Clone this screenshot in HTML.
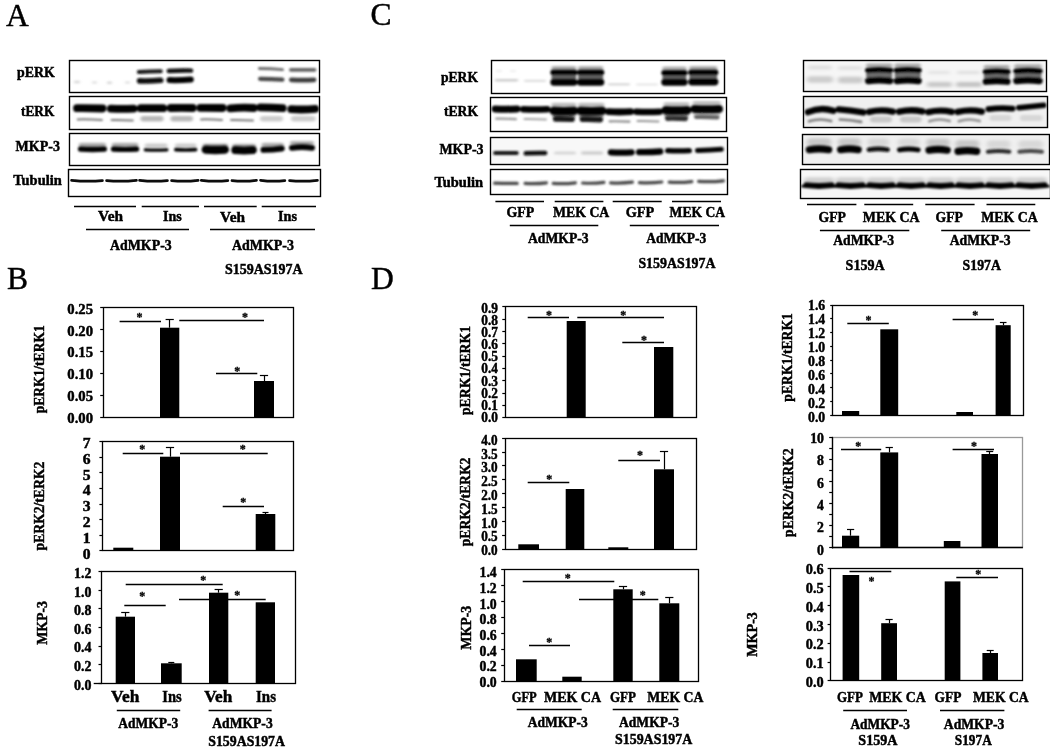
<!DOCTYPE html>
<html><head><meta charset="utf-8"><title>Figure</title>
<style>
html,body{margin:0;padding:0;background:#fff;}
svg{display:block;}
text{font-family:"Liberation Serif","Times New Roman",serif;}
</style></head><body>
<svg width="1050" height="749" viewBox="0 0 1050 749">
<defs>
<filter id="b0" filterUnits="userSpaceOnUse" x="0" y="0" width="1050" height="749"><feGaussianBlur stdDeviation="0.7 0.6"/></filter>
<filter id="b1" filterUnits="userSpaceOnUse" x="0" y="0" width="1050" height="749"><feGaussianBlur stdDeviation="1.1 0.9"/></filter>
<filter id="b2" filterUnits="userSpaceOnUse" x="0" y="0" width="1050" height="749"><feGaussianBlur stdDeviation="1.6 1.3"/></filter>
<filter id="b3" filterUnits="userSpaceOnUse" x="0" y="0" width="1050" height="749"><feGaussianBlur stdDeviation="2.2 1.8"/></filter>
<filter id="tb" filterUnits="userSpaceOnUse" x="0" y="0" width="1050" height="749"><feGaussianBlur stdDeviation="0.35"/></filter>
</defs>
<rect width="1050" height="749" fill="#fff"/>

<text x="6.0" y="25.7" font-size="31.5" stroke="#000" stroke-width="0.45">A</text>
<text x="6.9" y="288.5" font-size="31.5" stroke="#000" stroke-width="0.45">B</text>
<text x="370.5" y="25.4" font-size="31.5" stroke="#000" stroke-width="0.45">C</text>
<text x="370.9" y="288.5" font-size="31.5" stroke="#000" stroke-width="0.45">D</text>
<clipPath id="c1"><rect x="69.5" y="60.5" width="250.0" height="32.0"/></clipPath>
<g clip-path="url(#c1)">
<g filter="url(#b2)">
<path d="M75.2 82.0Q77.0 82.0 78.8 82.0" stroke="#d7d7d7" stroke-width="2.5" stroke-linecap="round" fill="none"/>
<path d="M93.2 82.5Q94.5 82.5 95.8 82.5" stroke="#e1e1e1" stroke-width="2.5" stroke-linecap="round" fill="none"/>
<path d="M108.2 82.8Q109.5 82.8 110.8 82.8" stroke="#d7d7d7" stroke-width="2.5" stroke-linecap="round" fill="none"/>
<path d="M126.2 82.5Q127.5 82.5 128.8 82.5" stroke="#e1e1e1" stroke-width="2.5" stroke-linecap="round" fill="none"/>
</g>
<g filter="url(#b1)">
<path d="M138.8 72.0Q149.8 71.5 160.8 71.3" stroke="#141414" stroke-width="4.0" stroke-linecap="round" fill="none"/>
<path d="M139.6 80.9Q150.2 81.2 160.7 80.3" stroke="#0a0a0a" stroke-width="5.6" stroke-linecap="round" fill="none"/>
<path d="M168.7 71.0Q179.9 70.4 191.1 70.6" stroke="#0a0a0a" stroke-width="4.4" stroke-linecap="round" fill="none"/>
<path d="M169.5 80.1Q180.2 80.4 190.8 79.5" stroke="#000000" stroke-width="6.0" stroke-linecap="round" fill="none"/>
<path d="M259.4 68.5Q271.0 68.5 282.6 69.6" stroke="#6e6e6e" stroke-width="2.8" stroke-linecap="round" fill="none"/>
<path d="M260.1 78.8Q271.2 78.8 282.4 79.6" stroke="#464646" stroke-width="4.2" stroke-linecap="round" fill="none"/>
<path d="M290.8 69.9Q302.7 69.9 314.6 69.9" stroke="#646464" stroke-width="3.6" stroke-linecap="round" fill="none"/>
<path d="M291.4 79.9Q302.7 80.3 314.0 79.9" stroke="#3c3c3c" stroke-width="4.8" stroke-linecap="round" fill="none"/>
</g>
</g>
<rect x="69.5" y="60.5" width="250.0" height="32.0" fill="none" stroke="#000" stroke-width="1.4"/>
<clipPath id="c2"><rect x="69.5" y="96.5" width="250.0" height="33.0"/></clipPath>
<g clip-path="url(#c2)">
<g filter="url(#b2)">
<path d="M143.2 118.8Q152.0 118.8 160.8 118.8" stroke="#b9b9b9" stroke-width="5.5" stroke-linecap="round" fill="none"/>
<path d="M173.2 118.8Q181.8 118.8 190.2 118.8" stroke="#b9b9b9" stroke-width="5.5" stroke-linecap="round" fill="none"/>
<path d="M262.8 118.8Q271.5 118.8 280.2 118.8" stroke="#cdcdcd" stroke-width="5.5" stroke-linecap="round" fill="none"/>
<path d="M293.8 118.8Q303.2 118.8 312.8 118.8" stroke="#cdcdcd" stroke-width="5.5" stroke-linecap="round" fill="none"/>
</g>
<g filter="url(#b1)">
<path d="M77.7 119.4Q89.8 119.2 101.9 119.9" stroke="#787878" stroke-width="2.0" stroke-linecap="round" fill="none"/>
<path d="M111.6 120.0Q122.2 119.8 132.8 120.5" stroke="#787878" stroke-width="2.0" stroke-linecap="round" fill="none"/>
<path d="M201.0 119.4Q211.5 119.2 222.0 119.9" stroke="#787878" stroke-width="2.0" stroke-linecap="round" fill="none"/>
<path d="M231.0 120.0Q242.0 119.8 253.0 120.5" stroke="#787878" stroke-width="2.0" stroke-linecap="round" fill="none"/>
<path d="M77.0 108.2Q89.8 108.1 102.6 108.5" stroke="#000000" stroke-width="7.8" stroke-linecap="round" fill="none"/>
<path d="M110.9 108.6Q122.2 109.2 133.5 108.6" stroke="#000000" stroke-width="7.8" stroke-linecap="round" fill="none"/>
<path d="M140.8 108.2Q152.0 108.2 163.2 108.2" stroke="#000000" stroke-width="7.8" stroke-linecap="round" fill="none"/>
<path d="M170.8 108.0Q181.8 107.6 192.7 108.0" stroke="#000000" stroke-width="7.8" stroke-linecap="round" fill="none"/>
<path d="M200.3 107.8Q211.5 107.7 222.7 108.0" stroke="#000000" stroke-width="7.8" stroke-linecap="round" fill="none"/>
<path d="M230.3 108.4Q242.0 107.2 253.7 108.0" stroke="#000000" stroke-width="7.8" stroke-linecap="round" fill="none"/>
<path d="M260.3 107.3Q271.5 107.4 282.7 108.2" stroke="#000000" stroke-width="7.8" stroke-linecap="round" fill="none"/>
<path d="M291.3 109.2Q303.2 109.9 315.2 108.9" stroke="#000000" stroke-width="7.8" stroke-linecap="round" fill="none"/>
</g>
</g>
<rect x="69.5" y="96.5" width="250.0" height="33.0" fill="none" stroke="#000" stroke-width="1.4"/>
<clipPath id="c3"><rect x="69.5" y="133.5" width="250.0" height="32.0"/></clipPath>
<g clip-path="url(#c3)">
<g filter="url(#b2)">
<path d="M80.9 144.8Q92.5 144.8 104.0 144.8" stroke="#afafaf" stroke-width="4.0" stroke-linecap="round" fill="none"/>
<path d="M113.8 144.8Q125.1 144.8 136.3 144.8" stroke="#afafaf" stroke-width="4.0" stroke-linecap="round" fill="none"/>
<path d="M146.7 145.6Q156.1 145.6 165.5 145.6" stroke="#cdcdcd" stroke-width="4.0" stroke-linecap="round" fill="none"/>
<path d="M177.0 145.4Q185.7 145.4 194.4 145.4" stroke="#cdcdcd" stroke-width="4.0" stroke-linecap="round" fill="none"/>
<path d="M204.6 145.4Q215.3 145.4 226.0 145.4" stroke="#afafaf" stroke-width="4.0" stroke-linecap="round" fill="none"/>
<path d="M234.3 145.8Q244.1 145.8 253.8 145.8" stroke="#afafaf" stroke-width="4.0" stroke-linecap="round" fill="none"/>
<path d="M263.5 144.8Q272.6 144.8 281.8 144.8" stroke="#afafaf" stroke-width="4.0" stroke-linecap="round" fill="none"/>
<path d="M292.0 143.1Q302.0 143.1 312.0 143.1" stroke="#afafaf" stroke-width="4.0" stroke-linecap="round" fill="none"/>
</g>
<g filter="url(#b1)">
<path d="M80.7 149.0Q92.5 149.8 104.2 149.0" stroke="#000000" stroke-width="5.6" stroke-linecap="round" fill="none"/>
<path d="M113.5 149.0Q125.1 149.8 136.6 149.0" stroke="#000000" stroke-width="5.4" stroke-linecap="round" fill="none"/>
<path d="M145.3 149.8Q156.1 150.6 166.9 149.8" stroke="#000000" stroke-width="3.2" stroke-linecap="round" fill="none"/>
<path d="M175.8 149.6Q185.7 150.4 195.6 149.6" stroke="#000000" stroke-width="3.6" stroke-linecap="round" fill="none"/>
<path d="M205.8 149.6Q215.3 150.4 224.8 149.6" stroke="#000000" stroke-width="8.4" stroke-linecap="round" fill="none"/>
<path d="M235.3 150.0Q244.1 150.8 252.8 150.0" stroke="#000000" stroke-width="8.0" stroke-linecap="round" fill="none"/>
<path d="M263.5 149.8Q272.6 149.5 281.8 148.4" stroke="#000000" stroke-width="6.0" stroke-linecap="round" fill="none"/>
<path d="M291.9 147.9Q302.0 146.1 312.1 147.9" stroke="#000000" stroke-width="5.8" stroke-linecap="round" fill="none"/>
</g>
</g>
<rect x="69.5" y="133.5" width="250.0" height="32.0" fill="none" stroke="#000" stroke-width="1.4"/>
<clipPath id="c4"><rect x="68.5" y="169.5" width="252.0" height="27.0"/></clipPath>
<g clip-path="url(#c4)">
<g filter="url(#b0)">
<path d="M71.6 180.3Q87.0 181.9 102.4 180.6" stroke="#0a0a0a" stroke-width="2.8" stroke-linecap="round" fill="none"/>
<path d="M106.6 180.6Q121.5 181.9 136.4 180.3" stroke="#0a0a0a" stroke-width="2.8" stroke-linecap="round" fill="none"/>
<path d="M139.6 180.3Q153.5 181.9 167.4 180.6" stroke="#0a0a0a" stroke-width="2.8" stroke-linecap="round" fill="none"/>
<path d="M171.6 180.6Q184.8 181.9 198.1 180.3" stroke="#0a0a0a" stroke-width="2.8" stroke-linecap="round" fill="none"/>
<path d="M201.3 180.3Q214.6 181.9 227.8 180.6" stroke="#0a0a0a" stroke-width="2.8" stroke-linecap="round" fill="none"/>
<path d="M232.0 180.6Q244.2 181.9 256.4 180.3" stroke="#0a0a0a" stroke-width="2.8" stroke-linecap="round" fill="none"/>
<path d="M260.6 180.3Q272.7 181.9 284.8 180.6" stroke="#0a0a0a" stroke-width="2.8" stroke-linecap="round" fill="none"/>
<path d="M289.6 180.6Q303.5 181.9 317.4 180.3" stroke="#0a0a0a" stroke-width="2.8" stroke-linecap="round" fill="none"/>
</g>
</g>
<rect x="68.5" y="169.5" width="252.0" height="27.0" fill="none" stroke="#000" stroke-width="1.4"/>
<clipPath id="c5"><rect x="491.5" y="60.5" width="233.0" height="33.0"/></clipPath>
<g clip-path="url(#c5)">
<g filter="url(#b2)">
<path d="M553.4 68.1Q563.9 68.1 574.4 68.1" stroke="#afafaf" stroke-width="4.0" stroke-linecap="round" fill="none"/>
<path d="M580.0 68.1Q590.6 68.1 601.3 68.1" stroke="#afafaf" stroke-width="4.0" stroke-linecap="round" fill="none"/>
<path d="M664.3 68.5Q674.5 68.5 684.6 68.5" stroke="#afafaf" stroke-width="4.0" stroke-linecap="round" fill="none"/>
<path d="M691.2 68.1Q703.3 68.1 715.4 68.1" stroke="#afafaf" stroke-width="4.0" stroke-linecap="round" fill="none"/>
<path d="M496.2 80.3Q506.5 80.3 516.8 80.3" stroke="#cdcdcd" stroke-width="2.5" stroke-linecap="round" fill="none"/>
<path d="M525.1 80.8Q535.0 80.8 544.9 80.8" stroke="#dedede" stroke-width="2.2" stroke-linecap="round" fill="none"/>
<path d="M609.1 84.3Q619.0 84.3 628.9 84.3" stroke="#d7d7d7" stroke-width="2.2" stroke-linecap="round" fill="none"/>
<path d="M637.0 84.6Q647.0 84.6 657.0 84.6" stroke="#e6e6e6" stroke-width="2.0" stroke-linecap="round" fill="none"/>
<path d="M497.0 71.0Q499.0 71.0 501.0 71.0" stroke="#eeeeee" stroke-width="2.0" stroke-linecap="round" fill="none"/>
<path d="M511.0 71.0Q513.0 71.0 515.0 71.0" stroke="#eeeeee" stroke-width="2.0" stroke-linecap="round" fill="none"/>
</g>
<g filter="url(#b1)">
<path d="M555.9 77.3Q563.9 77.3 571.9 77.3" stroke="#696969" stroke-width="9.0" stroke-linecap="round" fill="none"/>
<path d="M582.5 77.3Q590.6 77.3 598.8 77.3" stroke="#696969" stroke-width="9.0" stroke-linecap="round" fill="none"/>
<path d="M666.8 77.5Q674.5 77.5 682.1 77.5" stroke="#696969" stroke-width="9.0" stroke-linecap="round" fill="none"/>
<path d="M693.7 77.1Q703.3 77.1 712.9 77.1" stroke="#696969" stroke-width="9.0" stroke-linecap="round" fill="none"/>
<path d="M553.3 72.4Q563.9 72.4 574.5 72.4" stroke="#000000" stroke-width="5.8" stroke-linecap="round" fill="none"/>
<path d="M554.0 82.2Q563.9 82.2 573.8 82.2" stroke="#000000" stroke-width="7.2" stroke-linecap="round" fill="none"/>
<path d="M579.9 72.4Q590.6 72.4 601.4 72.4" stroke="#000000" stroke-width="5.8" stroke-linecap="round" fill="none"/>
<path d="M580.6 82.2Q590.6 82.2 600.7 82.2" stroke="#000000" stroke-width="7.2" stroke-linecap="round" fill="none"/>
<path d="M664.2 72.8Q674.5 72.8 684.7 72.8" stroke="#000000" stroke-width="5.8" stroke-linecap="round" fill="none"/>
<path d="M664.9 82.2Q674.5 82.2 684.0 82.2" stroke="#000000" stroke-width="7.2" stroke-linecap="round" fill="none"/>
<path d="M691.1 72.4Q703.3 72.4 715.5 72.4" stroke="#000000" stroke-width="5.8" stroke-linecap="round" fill="none"/>
<path d="M691.8 81.8Q703.3 81.8 714.8 81.8" stroke="#000000" stroke-width="7.2" stroke-linecap="round" fill="none"/>
</g>
</g>
<rect x="491.5" y="60.5" width="233.0" height="33.0" fill="none" stroke="#000" stroke-width="1.4"/>
<clipPath id="c6"><rect x="490.5" y="97.5" width="236.0" height="34.0"/></clipPath>
<g clip-path="url(#c6)">
<g filter="url(#b2)">
<path d="M553.4 104.8Q563.9 104.8 574.4 104.8" stroke="#bebebe" stroke-width="4.0" stroke-linecap="round" fill="none"/>
<path d="M580.2 104.8Q591.4 104.8 602.5 104.8" stroke="#bebebe" stroke-width="4.0" stroke-linecap="round" fill="none"/>
<path d="M665.5 104.2Q676.5 104.2 687.5 104.2" stroke="#bebebe" stroke-width="4.0" stroke-linecap="round" fill="none"/>
<path d="M694.5 102.9Q706.8 102.9 719.0 102.9" stroke="#bebebe" stroke-width="4.0" stroke-linecap="round" fill="none"/>
<path d="M555.4 115.3Q563.9 115.3 572.4 115.3" stroke="#969696" stroke-width="6.0" stroke-linecap="round" fill="none"/>
<path d="M582.2 115.5Q591.4 115.5 600.5 115.5" stroke="#969696" stroke-width="6.0" stroke-linecap="round" fill="none"/>
<path d="M667.5 114.8Q676.5 114.8 685.5 114.8" stroke="#969696" stroke-width="6.0" stroke-linecap="round" fill="none"/>
<path d="M696.5 113.5Q706.8 113.5 717.0 113.5" stroke="#b9b9b9" stroke-width="6.0" stroke-linecap="round" fill="none"/>
</g>
<g filter="url(#b1)">
<path d="M496.2 118.7Q506.1 118.5 515.9 119.1" stroke="#969696" stroke-width="2.2" stroke-linecap="round" fill="none"/>
<path d="M524.5 119.0Q535.2 118.8 546.0 119.4" stroke="#a5a5a5" stroke-width="2.0" stroke-linecap="round" fill="none"/>
<path d="M555.7 118.9Q563.9 118.7 572.1 119.3" stroke="#191919" stroke-width="5.6" stroke-linecap="round" fill="none"/>
<path d="M582.6 119.2Q591.4 119.0 600.1 119.6" stroke="#141414" stroke-width="5.8" stroke-linecap="round" fill="none"/>
<path d="M609.6 121.3Q619.5 121.1 629.4 121.7" stroke="#8c8c8c" stroke-width="2.2" stroke-linecap="round" fill="none"/>
<path d="M637.5 121.0Q648.0 120.8 658.5 121.4" stroke="#969696" stroke-width="2.0" stroke-linecap="round" fill="none"/>
<path d="M667.6 118.3Q676.5 118.1 685.4 118.7" stroke="#2d2d2d" stroke-width="5.2" stroke-linecap="round" fill="none"/>
<path d="M696.1 117.0Q706.8 116.8 717.4 117.4" stroke="#646464" stroke-width="4.2" stroke-linecap="round" fill="none"/>
<path d="M495.1 108.9Q506.1 109.5 517.0 108.9" stroke="#000000" stroke-width="7.0" stroke-linecap="round" fill="none"/>
<path d="M523.3 109.2Q535.2 109.8 547.2 109.2" stroke="#000000" stroke-width="6.6" stroke-linecap="round" fill="none"/>
<path d="M553.6 110.8Q563.9 111.4 574.2 110.8" stroke="#000000" stroke-width="8.4" stroke-linecap="round" fill="none"/>
<path d="M580.4 110.8Q591.4 111.4 602.3 110.8" stroke="#000000" stroke-width="8.4" stroke-linecap="round" fill="none"/>
<path d="M608.4 111.7Q619.5 112.3 630.6 111.7" stroke="#000000" stroke-width="6.8" stroke-linecap="round" fill="none"/>
<path d="M636.2 111.7Q648.0 112.3 659.8 111.7" stroke="#000000" stroke-width="6.4" stroke-linecap="round" fill="none"/>
<path d="M665.7 110.2Q676.5 110.8 687.3 110.2" stroke="#000000" stroke-width="8.4" stroke-linecap="round" fill="none"/>
<path d="M694.5 108.9Q706.8 109.5 719.0 108.9" stroke="#000000" stroke-width="8.0" stroke-linecap="round" fill="none"/>
</g>
</g>
<rect x="490.5" y="97.5" width="236.0" height="34.0" fill="none" stroke="#000" stroke-width="1.4"/>
<clipPath id="c7"><rect x="490.5" y="137.5" width="237.0" height="27.0"/></clipPath>
<g clip-path="url(#c7)">
<rect x="490.5" y="137.5" width="237.0" height="27.0" fill="#f8f8f8"/>
<g filter="url(#b2)">
<path d="M555.6 153.0Q565.0 153.0 574.4 153.0" stroke="#d7d7d7" stroke-width="3.2" stroke-linecap="round" fill="none"/>
<path d="M582.7 153.0Q592.0 153.0 601.3 153.0" stroke="#d0d0d0" stroke-width="3.4" stroke-linecap="round" fill="none"/>
</g>
<g filter="url(#b1)">
<path d="M495.1 153.0Q505.9 153.0 516.7 153.0" stroke="#191919" stroke-width="4.2" stroke-linecap="round" fill="none"/>
<path d="M525.8 153.3Q535.5 152.8 545.1 153.0" stroke="#0a0a0a" stroke-width="4.6" stroke-linecap="round" fill="none"/>
<path d="M610.9 152.3Q621.3 152.9 631.6 152.3" stroke="#000000" stroke-width="6.3" stroke-linecap="round" fill="none"/>
<path d="M639.1 152.1Q649.7 152.4 660.2 151.5" stroke="#000000" stroke-width="6.3" stroke-linecap="round" fill="none"/>
<path d="M667.7 150.6Q678.5 151.2 689.3 150.6" stroke="#000000" stroke-width="5.4" stroke-linecap="round" fill="none"/>
<path d="M697.5 150.6Q709.4 150.1 721.3 149.2" stroke="#000000" stroke-width="5.0" stroke-linecap="round" fill="none"/>
</g>
</g>
<rect x="490.5" y="137.5" width="237.0" height="27.0" fill="none" stroke="#000" stroke-width="1.4"/>
<clipPath id="c8"><rect x="490.5" y="169.5" width="237.0" height="25.0"/></clipPath>
<g clip-path="url(#c8)">
<g filter="url(#b1)">
<path d="M494.6 183.2Q505.9 183.5 517.2 183.4" stroke="#464646" stroke-width="3.2" stroke-linecap="round" fill="none"/>
<path d="M525.1 183.4Q535.8 184.1 546.4 182.8" stroke="#464646" stroke-width="3.2" stroke-linecap="round" fill="none"/>
<path d="M553.2 183.4Q564.3 184.1 575.4 182.8" stroke="#464646" stroke-width="3.2" stroke-linecap="round" fill="none"/>
<path d="M582.6 183.0Q593.2 183.7 603.9 182.4" stroke="#464646" stroke-width="3.2" stroke-linecap="round" fill="none"/>
<path d="M610.6 182.8Q621.5 183.5 632.4 182.2" stroke="#464646" stroke-width="3.2" stroke-linecap="round" fill="none"/>
<path d="M639.4 182.6Q650.6 183.3 661.8 182.0" stroke="#464646" stroke-width="3.2" stroke-linecap="round" fill="none"/>
<path d="M669.2 182.2Q680.5 182.9 691.8 181.6" stroke="#464646" stroke-width="3.2" stroke-linecap="round" fill="none"/>
<path d="M698.6 181.4Q711.0 182.1 723.4 180.8" stroke="#464646" stroke-width="3.2" stroke-linecap="round" fill="none"/>
</g>
</g>
<rect x="490.5" y="169.5" width="237.0" height="25.0" fill="none" stroke="#000" stroke-width="1.4"/>
<clipPath id="c9"><rect x="803.5" y="60.5" width="243.0" height="31.0"/></clipPath>
<g clip-path="url(#c9)">
<rect x="803.5" y="60.5" width="243.0" height="31.0" fill="#f6f6f6"/>
<g filter="url(#b3)">
<path d="M810.0 67.6Q820.0 67.6 830.0 67.6" stroke="#dedede" stroke-width="4.0" stroke-linecap="round" fill="none"/>
<path d="M840.0 68.0Q850.0 68.0 860.0 68.0" stroke="#e0e0e0" stroke-width="4.0" stroke-linecap="round" fill="none"/>
<path d="M810.2 79.6Q820.0 79.6 829.8 79.6" stroke="#cdcdcd" stroke-width="6.5" stroke-linecap="round" fill="none"/>
<path d="M841.2 80.0Q850.5 80.0 859.8 80.0" stroke="#cacaca" stroke-width="6.5" stroke-linecap="round" fill="none"/>
<path d="M929.5 72.4Q939.0 72.4 948.5 72.4" stroke="#e2e2e2" stroke-width="3.0" stroke-linecap="round" fill="none"/>
<path d="M958.5 72.4Q968.5 72.4 978.5 72.4" stroke="#dedede" stroke-width="3.0" stroke-linecap="round" fill="none"/>
<path d="M929.5 84.5Q939.5 84.5 949.5 84.5" stroke="#c8c8c8" stroke-width="5.0" stroke-linecap="round" fill="none"/>
<path d="M958.5 84.5Q969.0 84.5 979.5 84.5" stroke="#c3c3c3" stroke-width="5.0" stroke-linecap="round" fill="none"/>
</g>
<g filter="url(#b2)">
<path d="M868.0 65.5Q879.1 65.5 890.3 65.5" stroke="#aaaaaa" stroke-width="4.0" stroke-linecap="round" fill="none"/>
<path d="M896.6 65.5Q907.7 65.5 918.8 65.5" stroke="#aaaaaa" stroke-width="4.0" stroke-linecap="round" fill="none"/>
<path d="M985.7 66.9Q996.7 66.9 1007.6 66.9" stroke="#aaaaaa" stroke-width="4.0" stroke-linecap="round" fill="none"/>
<path d="M1016.2 66.2Q1028.0 66.2 1039.7 66.2" stroke="#aaaaaa" stroke-width="4.0" stroke-linecap="round" fill="none"/>
</g>
<g filter="url(#b1)">
<path d="M870.5 75.2Q879.1 75.2 887.8 75.2" stroke="#6e6e6e" stroke-width="9.0" stroke-linecap="round" fill="none"/>
<path d="M899.1 75.2Q907.7 75.2 916.3 75.2" stroke="#6e6e6e" stroke-width="9.0" stroke-linecap="round" fill="none"/>
<path d="M988.2 76.2Q996.7 76.2 1005.1 76.2" stroke="#6e6e6e" stroke-width="9.0" stroke-linecap="round" fill="none"/>
<path d="M1018.7 75.6Q1028.0 75.6 1037.2 75.6" stroke="#6e6e6e" stroke-width="9.0" stroke-linecap="round" fill="none"/>
<path d="M867.7 70.5Q879.1 69.1 890.6 70.5" stroke="#000000" stroke-width="5.4" stroke-linecap="round" fill="none"/>
<path d="M868.4 80.9Q879.1 79.5 889.9 80.9" stroke="#000000" stroke-width="6.8" stroke-linecap="round" fill="none"/>
<path d="M896.3 70.5Q907.7 69.1 919.1 70.5" stroke="#000000" stroke-width="5.4" stroke-linecap="round" fill="none"/>
<path d="M897.0 80.9Q907.7 79.5 918.4 80.9" stroke="#000000" stroke-width="6.8" stroke-linecap="round" fill="none"/>
<path d="M985.4 71.9Q996.7 70.5 1007.9 71.9" stroke="#000000" stroke-width="5.4" stroke-linecap="round" fill="none"/>
<path d="M986.1 81.5Q996.7 80.1 1007.2 81.5" stroke="#000000" stroke-width="6.8" stroke-linecap="round" fill="none"/>
<path d="M1015.9 71.2Q1028.0 69.8 1040.0 71.2" stroke="#000000" stroke-width="5.4" stroke-linecap="round" fill="none"/>
<path d="M1016.6 80.9Q1028.0 79.5 1039.3 80.9" stroke="#000000" stroke-width="6.8" stroke-linecap="round" fill="none"/>
</g>
</g>
<rect x="803.5" y="60.5" width="243.0" height="31.0" fill="none" stroke="#000" stroke-width="1.4"/>
<clipPath id="c10"><rect x="803.5" y="96.5" width="244.0" height="31.0"/></clipPath>
<g clip-path="url(#c10)">
<rect x="803.5" y="96.5" width="244.0" height="31.0" fill="#f0f0f0"/>
<g filter="url(#b2)">
<path d="M873.0 119.5Q881.0 119.5 889.0 119.5" stroke="#c8c8c8" stroke-width="6.0" stroke-linecap="round" fill="none"/>
<path d="M903.0 119.5Q910.8 119.5 918.5 119.5" stroke="#c8c8c8" stroke-width="6.0" stroke-linecap="round" fill="none"/>
<path d="M992.5 118.0Q1000.5 118.0 1008.5 118.0" stroke="#d7d7d7" stroke-width="6.0" stroke-linecap="round" fill="none"/>
<path d="M1023.0 118.0Q1031.2 118.0 1039.5 118.0" stroke="#d7d7d7" stroke-width="6.0" stroke-linecap="round" fill="none"/>
</g>
<g filter="url(#b1)">
<path d="M809.0 121.3Q820.1 117.8 831.2 121.1" stroke="#7d7d7d" stroke-width="2.6" stroke-linecap="round" fill="none"/>
<path d="M839.8 119.5Q850.5 119.9 861.2 121.9" stroke="#7d7d7d" stroke-width="2.6" stroke-linecap="round" fill="none"/>
<path d="M929.3 121.3Q939.5 117.8 949.7 121.1" stroke="#919191" stroke-width="2.6" stroke-linecap="round" fill="none"/>
<path d="M958.8 121.3Q969.2 117.8 979.7 121.1" stroke="#919191" stroke-width="2.6" stroke-linecap="round" fill="none"/>
<path d="M807.9 112.2Q820.6 106.5 833.3 110.8" stroke="#000000" stroke-width="6.4" stroke-linecap="round" fill="none"/>
<path d="M838.7 109.4Q851.0 110.3 863.3 112.4" stroke="#000000" stroke-width="6.4" stroke-linecap="round" fill="none"/>
<path d="M869.2 111.9Q881.0 109.1 892.8 111.6" stroke="#000000" stroke-width="6.4" stroke-linecap="round" fill="none"/>
<path d="M899.2 111.7Q910.8 108.9 922.3 111.4" stroke="#000000" stroke-width="6.4" stroke-linecap="round" fill="none"/>
<path d="M928.2 112.1Q940.0 109.3 951.8 111.8" stroke="#000000" stroke-width="6.4" stroke-linecap="round" fill="none"/>
<path d="M957.7 111.9Q969.8 109.1 981.8 111.6" stroke="#000000" stroke-width="6.4" stroke-linecap="round" fill="none"/>
<path d="M988.4 109.2Q1000.5 107.5 1012.6 108.7" stroke="#000000" stroke-width="5.8" stroke-linecap="round" fill="none"/>
<path d="M1018.7 107.8Q1031.2 106.5 1043.8 105.2" stroke="#000000" stroke-width="5.4" stroke-linecap="round" fill="none"/>
</g>
</g>
<rect x="803.5" y="96.5" width="244.0" height="31.0" fill="none" stroke="#000" stroke-width="1.4"/>
<clipPath id="c11"><rect x="802.5" y="134.5" width="247.0" height="30.0"/></clipPath>
<g clip-path="url(#c11)">
<rect x="802.5" y="134.5" width="247.0" height="30.0" fill="#f0f0f0"/>
<g filter="url(#b3)">
<path d="M810.7 142.3Q819.0 142.3 827.3 142.3" stroke="#c8c8c8" stroke-width="8.0" stroke-linecap="round" fill="none"/>
<path d="M842.0 142.3Q849.4 142.3 856.8 142.3" stroke="#c8c8c8" stroke-width="8.0" stroke-linecap="round" fill="none"/>
<path d="M871.6 142.3Q878.2 142.3 884.9 142.3" stroke="#d8d8d8" stroke-width="8.0" stroke-linecap="round" fill="none"/>
<path d="M902.0 142.5Q908.8 142.5 915.6 142.5" stroke="#d8d8d8" stroke-width="8.0" stroke-linecap="round" fill="none"/>
<path d="M930.4 142.8Q938.1 142.8 945.8 142.8" stroke="#c8c8c8" stroke-width="8.0" stroke-linecap="round" fill="none"/>
<path d="M959.4 144.0Q967.3 144.0 975.3 144.0" stroke="#c8c8c8" stroke-width="8.0" stroke-linecap="round" fill="none"/>
<path d="M990.9 144.3Q998.6 144.3 1006.3 144.3" stroke="#d8d8d8" stroke-width="8.0" stroke-linecap="round" fill="none"/>
<path d="M1022.3 144.3Q1030.7 144.3 1039.0 144.3" stroke="#d8d8d8" stroke-width="8.0" stroke-linecap="round" fill="none"/>
</g>
<g filter="url(#b1)">
<path d="M809.3 149.7Q819.0 148.1 828.7 149.7" stroke="#000000" stroke-width="7.2" stroke-linecap="round" fill="none"/>
<path d="M840.6 149.7Q849.4 148.1 858.2 149.7" stroke="#000000" stroke-width="7.2" stroke-linecap="round" fill="none"/>
<path d="M868.9 149.7Q878.2 148.1 887.6 149.7" stroke="#0a0a0a" stroke-width="4.6" stroke-linecap="round" fill="none"/>
<path d="M899.5 149.9Q908.8 148.3 918.1 149.9" stroke="#050505" stroke-width="5.0" stroke-linecap="round" fill="none"/>
<path d="M929.0 150.2Q938.1 148.6 947.2 150.2" stroke="#000000" stroke-width="7.2" stroke-linecap="round" fill="none"/>
<path d="M958.0 151.4Q967.3 149.8 976.7 151.4" stroke="#000000" stroke-width="7.2" stroke-linecap="round" fill="none"/>
<path d="M987.9 151.7Q998.6 150.1 1009.3 151.7" stroke="#282828" stroke-width="4.0" stroke-linecap="round" fill="none"/>
<path d="M1019.3 151.7Q1030.7 150.1 1042.0 151.7" stroke="#464646" stroke-width="4.0" stroke-linecap="round" fill="none"/>
</g>
</g>
<rect x="802.5" y="134.5" width="247.0" height="30.0" fill="none" stroke="#000" stroke-width="1.4"/>
<clipPath id="c12"><rect x="800.5" y="169.5" width="250.0" height="29.0"/></clipPath>
<g clip-path="url(#c12)">
<rect x="800.5" y="169.5" width="250.0" height="29.0" fill="#f7f7f7"/>
<g filter="url(#b3)">
<path d="M807.0 180.3Q819.0 180.3 831.0 180.3" stroke="#d0d0d0" stroke-width="6.0" stroke-linecap="round" fill="none"/>
<path d="M839.0 180.3Q850.5 180.3 862.0 180.3" stroke="#d0d0d0" stroke-width="6.0" stroke-linecap="round" fill="none"/>
<path d="M870.0 180.3Q881.0 180.3 892.0 180.3" stroke="#d0d0d0" stroke-width="6.0" stroke-linecap="round" fill="none"/>
<path d="M900.0 180.3Q911.0 180.3 922.0 180.3" stroke="#d0d0d0" stroke-width="6.0" stroke-linecap="round" fill="none"/>
<path d="M930.0 180.3Q940.5 180.3 951.0 180.3" stroke="#d0d0d0" stroke-width="6.0" stroke-linecap="round" fill="none"/>
<path d="M959.0 180.3Q970.0 180.3 981.0 180.3" stroke="#d0d0d0" stroke-width="6.0" stroke-linecap="round" fill="none"/>
<path d="M989.0 180.3Q1000.0 180.3 1011.0 180.3" stroke="#d0d0d0" stroke-width="6.0" stroke-linecap="round" fill="none"/>
<path d="M1019.0 180.3Q1031.5 180.3 1044.0 180.3" stroke="#d0d0d0" stroke-width="6.0" stroke-linecap="round" fill="none"/>
</g>
<g filter="url(#b1)">
<path d="M806.1 185.2Q819.0 186.8 831.9 185.2" stroke="#000000" stroke-width="5.8" stroke-linecap="round" fill="none"/>
<path d="M802.3 186.2Q819.0 186.8 835.7 186.2" stroke="#000000" stroke-width="2.6" stroke-linecap="round" fill="none"/>
<path d="M838.1 185.2Q850.5 186.8 862.9 185.2" stroke="#000000" stroke-width="5.8" stroke-linecap="round" fill="none"/>
<path d="M834.3 186.2Q850.5 186.8 866.7 186.2" stroke="#000000" stroke-width="2.6" stroke-linecap="round" fill="none"/>
<path d="M869.1 185.2Q881.0 186.8 892.9 185.2" stroke="#000000" stroke-width="5.8" stroke-linecap="round" fill="none"/>
<path d="M865.3 186.2Q881.0 186.8 896.7 186.2" stroke="#000000" stroke-width="2.6" stroke-linecap="round" fill="none"/>
<path d="M899.1 185.2Q911.0 186.8 922.9 185.2" stroke="#000000" stroke-width="5.8" stroke-linecap="round" fill="none"/>
<path d="M895.3 186.2Q911.0 186.8 926.7 186.2" stroke="#000000" stroke-width="2.6" stroke-linecap="round" fill="none"/>
<path d="M929.1 185.2Q940.5 186.8 951.9 185.2" stroke="#000000" stroke-width="5.8" stroke-linecap="round" fill="none"/>
<path d="M925.3 186.2Q940.5 186.8 955.7 186.2" stroke="#000000" stroke-width="2.6" stroke-linecap="round" fill="none"/>
<path d="M958.1 185.2Q970.0 186.8 981.9 185.2" stroke="#000000" stroke-width="5.8" stroke-linecap="round" fill="none"/>
<path d="M954.3 186.2Q970.0 186.8 985.7 186.2" stroke="#000000" stroke-width="2.6" stroke-linecap="round" fill="none"/>
<path d="M988.1 185.2Q1000.0 186.8 1011.9 185.2" stroke="#000000" stroke-width="5.8" stroke-linecap="round" fill="none"/>
<path d="M984.3 186.2Q1000.0 186.8 1015.7 186.2" stroke="#000000" stroke-width="2.6" stroke-linecap="round" fill="none"/>
<path d="M1018.1 185.2Q1031.5 186.8 1044.9 185.2" stroke="#000000" stroke-width="5.8" stroke-linecap="round" fill="none"/>
<path d="M1014.3 186.2Q1031.5 186.8 1048.7 186.2" stroke="#000000" stroke-width="2.6" stroke-linecap="round" fill="none"/>
</g>
</g>
<rect x="800.5" y="169.5" width="250.0" height="29.0" fill="none" stroke="#000" stroke-width="1.4"/>
<text x="17.0" y="76.6" font-size="14" font-weight="bold" textLength="37.7" lengthAdjust="spacingAndGlyphs" fill="#000" stroke="#000" stroke-width="0.45">pERK</text>
<text x="21.0" y="116.2" font-size="14" font-weight="bold" textLength="33.3" lengthAdjust="spacingAndGlyphs" fill="#000" stroke="#000" stroke-width="0.45">tERK</text>
<text x="15.6" y="150.5" font-size="14" font-weight="bold" textLength="44.4" lengthAdjust="spacingAndGlyphs" fill="#000" stroke="#000" stroke-width="0.45">MKP-3</text>
<text x="13.3" y="185.0" font-size="14" font-weight="bold" textLength="48.4" lengthAdjust="spacingAndGlyphs" fill="#000" stroke="#000" stroke-width="0.45">Tubulin</text>
<line x1="74.0" y1="206.5" x2="136.0" y2="206.5" stroke="#000" stroke-width="1.3"/>
<line x1="141.7" y1="206.5" x2="199.0" y2="206.5" stroke="#000" stroke-width="1.3"/>
<line x1="204.0" y1="206.5" x2="256.7" y2="206.5" stroke="#000" stroke-width="1.3"/>
<line x1="261.7" y1="206.5" x2="316.0" y2="206.5" stroke="#000" stroke-width="1.3"/>
<text x="98.0" y="221.0" font-size="14" font-weight="bold" textLength="25.0" lengthAdjust="spacingAndGlyphs" fill="#000" stroke="#000" stroke-width="0.45">Veh</text>
<text x="163.0" y="221.0" font-size="14" font-weight="bold" textLength="18.7" lengthAdjust="spacingAndGlyphs" fill="#000" stroke="#000" stroke-width="0.45">Ins</text>
<text x="220.0" y="222.0" font-size="14" font-weight="bold" textLength="25.0" lengthAdjust="spacingAndGlyphs" fill="#000" stroke="#000" stroke-width="0.45">Veh</text>
<text x="278.0" y="221.0" font-size="14" font-weight="bold" textLength="19.0" lengthAdjust="spacingAndGlyphs" fill="#000" stroke="#000" stroke-width="0.45">Ins</text>
<line x1="86.0" y1="229.5" x2="189.0" y2="229.5" stroke="#000" stroke-width="1.3"/>
<line x1="210.0" y1="229.5" x2="315.0" y2="229.5" stroke="#000" stroke-width="1.3"/>
<text x="110.0" y="250.0" font-size="14" font-weight="bold" textLength="61.7" lengthAdjust="spacingAndGlyphs" fill="#000" stroke="#000" stroke-width="0.45">AdMKP-3</text>
<text x="232.0" y="250.0" font-size="14" font-weight="bold" textLength="62.0" lengthAdjust="spacingAndGlyphs" fill="#000" stroke="#000" stroke-width="0.45">AdMKP-3</text>
<text x="225.0" y="274.0" font-size="14" font-weight="bold" textLength="77.7" lengthAdjust="spacingAndGlyphs" fill="#000" stroke="#000" stroke-width="0.45">S159AS197A</text>
<text x="441.0" y="82.0" font-size="14" font-weight="bold" textLength="37.0" lengthAdjust="spacingAndGlyphs" fill="#000" stroke="#000" stroke-width="0.45">pERK</text>
<text x="444.0" y="116.0" font-size="14" font-weight="bold" textLength="34.0" lengthAdjust="spacingAndGlyphs" fill="#000" stroke="#000" stroke-width="0.45">tERK</text>
<text x="439.4" y="154.4" font-size="14" font-weight="bold" textLength="44.2" lengthAdjust="spacingAndGlyphs" fill="#000" stroke="#000" stroke-width="0.45">MKP-3</text>
<text x="434.4" y="186.6" font-size="14" font-weight="bold" textLength="48.6" lengthAdjust="spacingAndGlyphs" fill="#000" stroke="#000" stroke-width="0.45">Tubulin</text>
<line x1="495.4" y1="201.5" x2="544.0" y2="201.5" stroke="#000" stroke-width="1.3"/>
<line x1="554.7" y1="201.5" x2="603.4" y2="201.5" stroke="#000" stroke-width="1.3"/>
<line x1="612.7" y1="201.5" x2="661.7" y2="201.5" stroke="#000" stroke-width="1.3"/>
<line x1="672.0" y1="201.5" x2="721.0" y2="201.5" stroke="#000" stroke-width="1.3"/>
<text x="506.4" y="216.7" font-size="14" font-weight="bold" textLength="27.8" lengthAdjust="spacingAndGlyphs" fill="#000" stroke="#000" stroke-width="0.45">GFP</text>
<text x="553.0" y="216.7" font-size="14" font-weight="bold" textLength="56.3" lengthAdjust="spacingAndGlyphs" fill="#000" stroke="#000" stroke-width="0.45">MEK CA</text>
<text x="625.7" y="216.7" font-size="14" font-weight="bold" textLength="28.5" lengthAdjust="spacingAndGlyphs" fill="#000" stroke="#000" stroke-width="0.45">GFP</text>
<text x="669.6" y="216.7" font-size="14" font-weight="bold" textLength="55.4" lengthAdjust="spacingAndGlyphs" fill="#000" stroke="#000" stroke-width="0.45">MEK CA</text>
<line x1="509.8" y1="225.5" x2="598.3" y2="225.5" stroke="#000" stroke-width="1.3"/>
<line x1="629.8" y1="225.5" x2="719.0" y2="225.5" stroke="#000" stroke-width="1.3"/>
<text x="528.0" y="242.7" font-size="14" font-weight="bold" textLength="60.7" lengthAdjust="spacingAndGlyphs" fill="#000" stroke="#000" stroke-width="0.45">AdMKP-3</text>
<text x="646.3" y="242.7" font-size="14" font-weight="bold" textLength="60.0" lengthAdjust="spacingAndGlyphs" fill="#000" stroke="#000" stroke-width="0.45">AdMKP-3</text>
<text x="638.4" y="268.0" font-size="14" font-weight="bold" textLength="77.1" lengthAdjust="spacingAndGlyphs" fill="#000" stroke="#000" stroke-width="0.45">S159AS197A</text>
<line x1="807.0" y1="204.5" x2="856.4" y2="204.5" stroke="#000" stroke-width="1.3"/>
<line x1="864.3" y1="204.5" x2="913.2" y2="204.5" stroke="#000" stroke-width="1.3"/>
<line x1="925.3" y1="204.5" x2="974.6" y2="204.5" stroke="#000" stroke-width="1.3"/>
<line x1="986.5" y1="204.5" x2="1035.3" y2="204.5" stroke="#000" stroke-width="1.3"/>
<text x="818.6" y="222.0" font-size="14" font-weight="bold" textLength="27.4" lengthAdjust="spacingAndGlyphs" fill="#000" stroke="#000" stroke-width="0.45">GFP</text>
<text x="862.8" y="222.0" font-size="14" font-weight="bold" textLength="56.8" lengthAdjust="spacingAndGlyphs" fill="#000" stroke="#000" stroke-width="0.45">MEK CA</text>
<text x="935.6" y="222.0" font-size="14" font-weight="bold" textLength="27.4" lengthAdjust="spacingAndGlyphs" fill="#000" stroke="#000" stroke-width="0.45">GFP</text>
<text x="981.3" y="222.0" font-size="14" font-weight="bold" textLength="56.3" lengthAdjust="spacingAndGlyphs" fill="#000" stroke="#000" stroke-width="0.45">MEK CA</text>
<line x1="819.9" y1="230.5" x2="909.3" y2="230.5" stroke="#000" stroke-width="1.3"/>
<line x1="941.2" y1="230.5" x2="1030.2" y2="230.5" stroke="#000" stroke-width="1.3"/>
<text x="833.2" y="244.5" font-size="14" font-weight="bold" textLength="60.8" lengthAdjust="spacingAndGlyphs" fill="#000" stroke="#000" stroke-width="0.45">AdMKP-3</text>
<text x="949.7" y="244.5" font-size="14" font-weight="bold" textLength="60.9" lengthAdjust="spacingAndGlyphs" fill="#000" stroke="#000" stroke-width="0.45">AdMKP-3</text>
<text x="845.6" y="270.2" font-size="14" font-weight="bold" textLength="39.1" lengthAdjust="spacingAndGlyphs" fill="#000" stroke="#000" stroke-width="0.45">S159A</text>
<text x="962.6" y="270.2" font-size="14" font-weight="bold" textLength="38.4" lengthAdjust="spacingAndGlyphs" fill="#000" stroke="#000" stroke-width="0.45">S197A</text>
<rect x="103.5" y="307.5" width="190.0" height="110.0" fill="none" stroke="#000" stroke-width="1.3"/>
<text x="67.3" y="313.9" font-size="14" font-weight="bold" textLength="25.7" lengthAdjust="spacingAndGlyphs" fill="#000" stroke="#000" stroke-width="0.45">0.25</text>
<line x1="100.2" y1="307.5" x2="103.2" y2="307.5" stroke="#000" stroke-width="1.2"/>
<text x="67.3" y="335.6" font-size="14" font-weight="bold" textLength="25.7" lengthAdjust="spacingAndGlyphs" fill="#000" stroke="#000" stroke-width="0.45">0.20</text>
<line x1="100.2" y1="329.5" x2="103.2" y2="329.5" stroke="#000" stroke-width="1.2"/>
<text x="67.3" y="357.4" font-size="14" font-weight="bold" textLength="25.7" lengthAdjust="spacingAndGlyphs" fill="#000" stroke="#000" stroke-width="0.45">0.15</text>
<line x1="100.2" y1="351.5" x2="103.2" y2="351.5" stroke="#000" stroke-width="1.2"/>
<text x="67.3" y="379.1" font-size="14" font-weight="bold" textLength="25.7" lengthAdjust="spacingAndGlyphs" fill="#000" stroke="#000" stroke-width="0.45">0.10</text>
<line x1="100.2" y1="373.5" x2="103.2" y2="373.5" stroke="#000" stroke-width="1.2"/>
<text x="67.3" y="400.9" font-size="14" font-weight="bold" textLength="25.7" lengthAdjust="spacingAndGlyphs" fill="#000" stroke="#000" stroke-width="0.45">0.05</text>
<line x1="100.2" y1="395.5" x2="103.2" y2="395.5" stroke="#000" stroke-width="1.2"/>
<text x="67.3" y="422.6" font-size="14" font-weight="bold" textLength="25.7" lengthAdjust="spacingAndGlyphs" fill="#000" stroke="#000" stroke-width="0.45">0.00</text>
<line x1="100.2" y1="417.5" x2="103.2" y2="417.5" stroke="#000" stroke-width="1.2"/>
<rect x="160.0" y="327.7" width="19.3" height="89.9" fill="#000"/>
<line x1="169.5" y1="319.3" x2="169.5" y2="327.7" stroke="#000" stroke-width="1.2"/>
<line x1="165.6" y1="319.5" x2="173.8" y2="319.5" stroke="#000" stroke-width="1.2"/>
<rect x="254.0" y="381.0" width="20.0" height="36.6" fill="#000"/>
<line x1="264.5" y1="375.0" x2="264.5" y2="381.0" stroke="#000" stroke-width="1.2"/>
<line x1="259.9" y1="375.5" x2="268.1" y2="375.5" stroke="#000" stroke-width="1.2"/>
<line x1="119.6" y1="321.5" x2="161.0" y2="321.5" stroke="#000" stroke-width="1.5"/>
<text x="139.6" y="321.0" font-size="12" font-weight="bold" text-anchor="middle" stroke="#000" stroke-width="0.3">*</text>
<line x1="179.3" y1="320.5" x2="264.0" y2="320.5" stroke="#000" stroke-width="1.5"/>
<text x="245.0" y="321.0" font-size="12" font-weight="bold" text-anchor="middle" stroke="#000" stroke-width="0.3">*</text>
<line x1="216.0" y1="373.5" x2="257.3" y2="373.5" stroke="#000" stroke-width="1.5"/>
<text x="237.3" y="375.0" font-size="12" font-weight="bold" text-anchor="middle" stroke="#000" stroke-width="0.3">*</text>
<text transform="translate(44.4,413.3) rotate(-90)" font-size="14.5" font-weight="bold" textLength="88.0" lengthAdjust="spacingAndGlyphs" stroke="#000" stroke-width="0.45">pERK1/tERK1</text>
<rect x="102.5" y="441.5" width="191.0" height="109.0" fill="none" stroke="#000" stroke-width="1.3"/>
<text x="82.8" y="448.0" font-size="14" font-weight="bold" textLength="7.8" lengthAdjust="spacingAndGlyphs" fill="#000" stroke="#000" stroke-width="0.45">7</text>
<line x1="99.4" y1="441.5" x2="102.4" y2="441.5" stroke="#000" stroke-width="1.2"/>
<text x="82.8" y="463.8" font-size="14" font-weight="bold" textLength="7.8" lengthAdjust="spacingAndGlyphs" fill="#000" stroke="#000" stroke-width="0.45">6</text>
<line x1="99.4" y1="457.5" x2="102.4" y2="457.5" stroke="#000" stroke-width="1.2"/>
<text x="82.8" y="479.6" font-size="14" font-weight="bold" textLength="7.8" lengthAdjust="spacingAndGlyphs" fill="#000" stroke="#000" stroke-width="0.45">5</text>
<line x1="99.4" y1="472.5" x2="102.4" y2="472.5" stroke="#000" stroke-width="1.2"/>
<text x="82.8" y="495.4" font-size="14" font-weight="bold" textLength="7.8" lengthAdjust="spacingAndGlyphs" fill="#000" stroke="#000" stroke-width="0.45">4</text>
<line x1="99.4" y1="488.5" x2="102.4" y2="488.5" stroke="#000" stroke-width="1.2"/>
<text x="82.8" y="511.1" font-size="14" font-weight="bold" textLength="7.8" lengthAdjust="spacingAndGlyphs" fill="#000" stroke="#000" stroke-width="0.45">3</text>
<line x1="99.4" y1="504.5" x2="102.4" y2="504.5" stroke="#000" stroke-width="1.2"/>
<text x="82.8" y="526.9" font-size="14" font-weight="bold" textLength="7.8" lengthAdjust="spacingAndGlyphs" fill="#000" stroke="#000" stroke-width="0.45">2</text>
<line x1="99.4" y1="519.5" x2="102.4" y2="519.5" stroke="#000" stroke-width="1.2"/>
<text x="82.8" y="542.7" font-size="14" font-weight="bold" textLength="7.8" lengthAdjust="spacingAndGlyphs" fill="#000" stroke="#000" stroke-width="0.45">1</text>
<line x1="99.4" y1="535.5" x2="102.4" y2="535.5" stroke="#000" stroke-width="1.2"/>
<text x="82.8" y="558.5" font-size="14" font-weight="bold" textLength="7.8" lengthAdjust="spacingAndGlyphs" fill="#000" stroke="#000" stroke-width="0.45">0</text>
<line x1="99.4" y1="550.5" x2="102.4" y2="550.5" stroke="#000" stroke-width="1.2"/>
<rect x="113.3" y="547.7" width="20.0" height="3.2" fill="#000"/>
<rect x="160.0" y="456.7" width="20.0" height="94.2" fill="#000"/>
<line x1="170.5" y1="447.7" x2="170.5" y2="456.7" stroke="#000" stroke-width="1.2"/>
<line x1="165.9" y1="447.5" x2="174.1" y2="447.5" stroke="#000" stroke-width="1.2"/>
<rect x="255.7" y="514.0" width="19.6" height="36.9" fill="#000"/>
<line x1="265.5" y1="512.7" x2="265.5" y2="514.0" stroke="#000" stroke-width="1.2"/>
<line x1="262.5" y1="512.5" x2="268.5" y2="512.5" stroke="#000" stroke-width="1.2"/>
<line x1="122.7" y1="453.5" x2="163.3" y2="453.5" stroke="#000" stroke-width="1.5"/>
<text x="142.3" y="453.0" font-size="12" font-weight="bold" text-anchor="middle" stroke="#000" stroke-width="0.3">*</text>
<line x1="180.0" y1="453.5" x2="267.7" y2="453.5" stroke="#000" stroke-width="1.5"/>
<text x="242.7" y="453.0" font-size="12" font-weight="bold" text-anchor="middle" stroke="#000" stroke-width="0.3">*</text>
<line x1="222.7" y1="506.5" x2="264.0" y2="506.5" stroke="#000" stroke-width="1.5"/>
<text x="243.3" y="506.0" font-size="12" font-weight="bold" text-anchor="middle" stroke="#000" stroke-width="0.3">*</text>
<text transform="translate(44.2,550.5) rotate(-90)" font-size="14.5" font-weight="bold" textLength="88.8" lengthAdjust="spacingAndGlyphs" stroke="#000" stroke-width="0.45">pERK2/tERK2</text>
<rect x="101.5" y="571.5" width="194.0" height="112.0" fill="none" stroke="#000" stroke-width="1.3"/>
<text x="74.0" y="578.3" font-size="14" font-weight="bold" textLength="17.4" lengthAdjust="spacingAndGlyphs" fill="#000" stroke="#000" stroke-width="0.45">1.2</text>
<line x1="98.5" y1="571.5" x2="101.5" y2="571.5" stroke="#000" stroke-width="1.2"/>
<text x="74.0" y="596.8" font-size="14" font-weight="bold" textLength="17.4" lengthAdjust="spacingAndGlyphs" fill="#000" stroke="#000" stroke-width="0.45">1.0</text>
<line x1="98.5" y1="590.5" x2="101.5" y2="590.5" stroke="#000" stroke-width="1.2"/>
<text x="74.0" y="615.4" font-size="14" font-weight="bold" textLength="17.4" lengthAdjust="spacingAndGlyphs" fill="#000" stroke="#000" stroke-width="0.45">0.8</text>
<line x1="98.5" y1="608.5" x2="101.5" y2="608.5" stroke="#000" stroke-width="1.2"/>
<text x="74.0" y="633.9" font-size="14" font-weight="bold" textLength="17.4" lengthAdjust="spacingAndGlyphs" fill="#000" stroke="#000" stroke-width="0.45">0.6</text>
<line x1="98.5" y1="627.5" x2="101.5" y2="627.5" stroke="#000" stroke-width="1.2"/>
<text x="74.0" y="652.4" font-size="14" font-weight="bold" textLength="17.4" lengthAdjust="spacingAndGlyphs" fill="#000" stroke="#000" stroke-width="0.45">0.4</text>
<line x1="98.5" y1="646.5" x2="101.5" y2="646.5" stroke="#000" stroke-width="1.2"/>
<text x="74.0" y="671.0" font-size="14" font-weight="bold" textLength="17.4" lengthAdjust="spacingAndGlyphs" fill="#000" stroke="#000" stroke-width="0.45">0.2</text>
<line x1="98.5" y1="664.5" x2="101.5" y2="664.5" stroke="#000" stroke-width="1.2"/>
<text x="74.0" y="689.5" font-size="14" font-weight="bold" textLength="17.4" lengthAdjust="spacingAndGlyphs" fill="#000" stroke="#000" stroke-width="0.45">0.0</text>
<line x1="98.5" y1="683.5" x2="101.5" y2="683.5" stroke="#000" stroke-width="1.2"/>
<line x1="93.7" y1="683.5" x2="101.5" y2="683.5" stroke="#000" stroke-width="1.3"/>
<rect x="115.7" y="616.7" width="19.3" height="66.5" fill="#000"/>
<line x1="125.5" y1="612.7" x2="125.5" y2="616.7" stroke="#000" stroke-width="1.2"/>
<line x1="121.2" y1="612.5" x2="129.4" y2="612.5" stroke="#000" stroke-width="1.2"/>
<rect x="161.0" y="663.3" width="20.7" height="19.9" fill="#000"/>
<line x1="171.5" y1="662.5" x2="171.5" y2="663.3" stroke="#000" stroke-width="1.2"/>
<line x1="168.3" y1="662.5" x2="174.3" y2="662.5" stroke="#000" stroke-width="1.2"/>
<rect x="209.0" y="592.7" width="19.3" height="90.5" fill="#000"/>
<line x1="218.5" y1="589.3" x2="218.5" y2="592.7" stroke="#000" stroke-width="1.2"/>
<line x1="214.6" y1="589.5" x2="222.8" y2="589.5" stroke="#000" stroke-width="1.2"/>
<rect x="255.7" y="602.3" width="19.3" height="80.9" fill="#000"/>
<line x1="125.7" y1="584.5" x2="222.7" y2="584.5" stroke="#000" stroke-width="1.5"/>
<text x="203.3" y="584.3" font-size="12" font-weight="bold" text-anchor="middle" stroke="#000" stroke-width="0.3">*</text>
<line x1="124.3" y1="605.5" x2="165.7" y2="605.5" stroke="#000" stroke-width="1.5"/>
<text x="142.3" y="600.3" font-size="12" font-weight="bold" text-anchor="middle" stroke="#000" stroke-width="0.3">*</text>
<line x1="179.0" y1="599.5" x2="265.7" y2="599.5" stroke="#000" stroke-width="1.5"/>
<text x="237.3" y="598.7" font-size="12" font-weight="bold" text-anchor="middle" stroke="#000" stroke-width="0.3">*</text>
<text transform="translate(46.6,644.8) rotate(-90)" font-size="14.5" font-weight="bold" textLength="43.8" lengthAdjust="spacingAndGlyphs" stroke="#000" stroke-width="0.45">MKP-3</text>
<text x="111.0" y="701.7" font-size="17" font-weight="bold" textLength="28.3" lengthAdjust="spacingAndGlyphs" fill="#000" stroke="#000" stroke-width="0.45">Veh</text>
<text x="162.3" y="701.7" font-size="17" font-weight="bold" textLength="19.4" lengthAdjust="spacingAndGlyphs" fill="#000" stroke="#000" stroke-width="0.45">Ins</text>
<text x="204.3" y="701.7" font-size="17" font-weight="bold" textLength="28.0" lengthAdjust="spacingAndGlyphs" fill="#000" stroke="#000" stroke-width="0.45">Veh</text>
<text x="256.0" y="701.7" font-size="17" font-weight="bold" textLength="20.0" lengthAdjust="spacingAndGlyphs" fill="#000" stroke="#000" stroke-width="0.45">Ins</text>
<line x1="116.8" y1="710.5" x2="180.2" y2="710.5" stroke="#000" stroke-width="1.3"/>
<line x1="208.6" y1="710.5" x2="271.6" y2="710.5" stroke="#000" stroke-width="1.3"/>
<text x="118.3" y="728.3" font-size="14" font-weight="bold" textLength="60.0" lengthAdjust="spacingAndGlyphs" fill="#000" stroke="#000" stroke-width="0.45">AdMKP-3</text>
<text x="212.3" y="728.3" font-size="14" font-weight="bold" textLength="60.4" lengthAdjust="spacingAndGlyphs" fill="#000" stroke="#000" stroke-width="0.45">AdMKP-3</text>
<text x="208.3" y="746.0" font-size="14" font-weight="bold" textLength="76.7" lengthAdjust="spacingAndGlyphs" fill="#000" stroke="#000" stroke-width="0.45">S159AS197A</text>
<rect x="505.5" y="306.5" width="191.0" height="111.0" fill="none" stroke="#000" stroke-width="1.3"/>
<text x="481.3" y="312.5" font-size="14" font-weight="bold" textLength="16.7" lengthAdjust="spacingAndGlyphs" fill="#000" stroke="#000" stroke-width="0.45">0.9</text>
<line x1="502.3" y1="306.5" x2="505.3" y2="306.5" stroke="#000" stroke-width="1.2"/>
<text x="481.3" y="324.7" font-size="14" font-weight="bold" textLength="16.7" lengthAdjust="spacingAndGlyphs" fill="#000" stroke="#000" stroke-width="0.45">0.8</text>
<line x1="502.3" y1="319.5" x2="505.3" y2="319.5" stroke="#000" stroke-width="1.2"/>
<text x="481.3" y="336.9" font-size="14" font-weight="bold" textLength="16.7" lengthAdjust="spacingAndGlyphs" fill="#000" stroke="#000" stroke-width="0.45">0.7</text>
<line x1="502.3" y1="331.5" x2="505.3" y2="331.5" stroke="#000" stroke-width="1.2"/>
<text x="481.3" y="349.1" font-size="14" font-weight="bold" textLength="16.7" lengthAdjust="spacingAndGlyphs" fill="#000" stroke="#000" stroke-width="0.45">0.6</text>
<line x1="502.3" y1="343.5" x2="505.3" y2="343.5" stroke="#000" stroke-width="1.2"/>
<text x="481.3" y="361.3" font-size="14" font-weight="bold" textLength="16.7" lengthAdjust="spacingAndGlyphs" fill="#000" stroke="#000" stroke-width="0.45">0.5</text>
<line x1="502.3" y1="356.5" x2="505.3" y2="356.5" stroke="#000" stroke-width="1.2"/>
<text x="481.3" y="373.4" font-size="14" font-weight="bold" textLength="16.7" lengthAdjust="spacingAndGlyphs" fill="#000" stroke="#000" stroke-width="0.45">0.4</text>
<line x1="502.3" y1="368.5" x2="505.3" y2="368.5" stroke="#000" stroke-width="1.2"/>
<text x="481.3" y="385.6" font-size="14" font-weight="bold" textLength="16.7" lengthAdjust="spacingAndGlyphs" fill="#000" stroke="#000" stroke-width="0.45">0.3</text>
<line x1="502.3" y1="380.5" x2="505.3" y2="380.5" stroke="#000" stroke-width="1.2"/>
<text x="481.3" y="397.8" font-size="14" font-weight="bold" textLength="16.7" lengthAdjust="spacingAndGlyphs" fill="#000" stroke="#000" stroke-width="0.45">0.2</text>
<line x1="502.3" y1="393.5" x2="505.3" y2="393.5" stroke="#000" stroke-width="1.2"/>
<text x="481.3" y="410.0" font-size="14" font-weight="bold" textLength="16.7" lengthAdjust="spacingAndGlyphs" fill="#000" stroke="#000" stroke-width="0.45">0.1</text>
<line x1="502.3" y1="405.5" x2="505.3" y2="405.5" stroke="#000" stroke-width="1.2"/>
<text x="481.3" y="422.2" font-size="14" font-weight="bold" textLength="16.7" lengthAdjust="spacingAndGlyphs" fill="#000" stroke="#000" stroke-width="0.45">0.0</text>
<line x1="502.3" y1="417.5" x2="505.3" y2="417.5" stroke="#000" stroke-width="1.2"/>
<rect x="566.7" y="321.0" width="19.0" height="96.7" fill="#000"/>
<rect x="654.0" y="347.0" width="19.3" height="70.7" fill="#000"/>
<line x1="527.7" y1="317.5" x2="569.0" y2="317.5" stroke="#000" stroke-width="1.5"/>
<text x="549.0" y="319.3" font-size="12" font-weight="bold" text-anchor="middle" stroke="#000" stroke-width="0.3">*</text>
<line x1="577.3" y1="317.5" x2="664.0" y2="317.5" stroke="#000" stroke-width="1.5"/>
<text x="623.3" y="319.3" font-size="12" font-weight="bold" text-anchor="middle" stroke="#000" stroke-width="0.3">*</text>
<line x1="622.3" y1="342.5" x2="664.0" y2="342.5" stroke="#000" stroke-width="1.5"/>
<text x="644.0" y="344.3" font-size="12" font-weight="bold" text-anchor="middle" stroke="#000" stroke-width="0.3">*</text>
<text transform="translate(469.6,415.0) rotate(-90)" font-size="14.5" font-weight="bold" textLength="89.0" lengthAdjust="spacingAndGlyphs" stroke="#000" stroke-width="0.45">pERK1/tERK1</text>
<rect x="505.5" y="438.5" width="191.0" height="111.0" fill="none" stroke="#000" stroke-width="1.3"/>
<text x="481.2" y="444.7" font-size="14" font-weight="bold" textLength="16.5" lengthAdjust="spacingAndGlyphs" fill="#000" stroke="#000" stroke-width="0.45">4.0</text>
<line x1="502.1" y1="438.5" x2="505.1" y2="438.5" stroke="#000" stroke-width="1.2"/>
<text x="481.2" y="458.5" font-size="14" font-weight="bold" textLength="16.5" lengthAdjust="spacingAndGlyphs" fill="#000" stroke="#000" stroke-width="0.45">3.5</text>
<line x1="502.1" y1="452.5" x2="505.1" y2="452.5" stroke="#000" stroke-width="1.2"/>
<text x="481.2" y="472.3" font-size="14" font-weight="bold" textLength="16.5" lengthAdjust="spacingAndGlyphs" fill="#000" stroke="#000" stroke-width="0.45">3.0</text>
<line x1="502.1" y1="465.5" x2="505.1" y2="465.5" stroke="#000" stroke-width="1.2"/>
<text x="481.2" y="486.1" font-size="14" font-weight="bold" textLength="16.5" lengthAdjust="spacingAndGlyphs" fill="#000" stroke="#000" stroke-width="0.45">2.5</text>
<line x1="502.1" y1="479.5" x2="505.1" y2="479.5" stroke="#000" stroke-width="1.2"/>
<text x="481.2" y="500.0" font-size="14" font-weight="bold" textLength="16.5" lengthAdjust="spacingAndGlyphs" fill="#000" stroke="#000" stroke-width="0.45">2.0</text>
<line x1="502.1" y1="493.5" x2="505.1" y2="493.5" stroke="#000" stroke-width="1.2"/>
<text x="481.2" y="513.8" font-size="14" font-weight="bold" textLength="16.5" lengthAdjust="spacingAndGlyphs" fill="#000" stroke="#000" stroke-width="0.45">1.5</text>
<line x1="502.1" y1="507.5" x2="505.1" y2="507.5" stroke="#000" stroke-width="1.2"/>
<text x="481.2" y="527.6" font-size="14" font-weight="bold" textLength="16.5" lengthAdjust="spacingAndGlyphs" fill="#000" stroke="#000" stroke-width="0.45">1.0</text>
<line x1="502.1" y1="521.5" x2="505.1" y2="521.5" stroke="#000" stroke-width="1.2"/>
<text x="481.2" y="541.4" font-size="14" font-weight="bold" textLength="16.5" lengthAdjust="spacingAndGlyphs" fill="#000" stroke="#000" stroke-width="0.45">0.5</text>
<line x1="502.1" y1="535.5" x2="505.1" y2="535.5" stroke="#000" stroke-width="1.2"/>
<text x="481.2" y="555.2" font-size="14" font-weight="bold" textLength="16.5" lengthAdjust="spacingAndGlyphs" fill="#000" stroke="#000" stroke-width="0.45">0.0</text>
<line x1="502.1" y1="549.5" x2="505.1" y2="549.5" stroke="#000" stroke-width="1.2"/>
<rect x="518.3" y="544.3" width="20.7" height="4.7" fill="#000"/>
<rect x="565.7" y="489.0" width="18.6" height="60.0" fill="#000"/>
<rect x="608.3" y="547.3" width="20.0" height="1.7" fill="#000"/>
<rect x="654.0" y="469.3" width="20.0" height="79.7" fill="#000"/>
<line x1="664.5" y1="451.7" x2="664.5" y2="469.3" stroke="#000" stroke-width="1.2"/>
<line x1="659.9" y1="451.5" x2="668.1" y2="451.5" stroke="#000" stroke-width="1.2"/>
<line x1="527.7" y1="482.5" x2="569.3" y2="482.5" stroke="#000" stroke-width="1.5"/>
<text x="549.3" y="482.7" font-size="12" font-weight="bold" text-anchor="middle" stroke="#000" stroke-width="0.3">*</text>
<line x1="618.3" y1="460.5" x2="660.0" y2="460.5" stroke="#000" stroke-width="1.5"/>
<text x="640.0" y="459.3" font-size="12" font-weight="bold" text-anchor="middle" stroke="#000" stroke-width="0.3">*</text>
<text transform="translate(469.8,546.2) rotate(-90)" font-size="14.5" font-weight="bold" textLength="88.5" lengthAdjust="spacingAndGlyphs" stroke="#000" stroke-width="0.45">pERK2/tERK2</text>
<rect x="504.5" y="569.5" width="194.0" height="112.0" fill="none" stroke="#000" stroke-width="1.3"/>
<text x="479.5" y="577.2" font-size="14" font-weight="bold" textLength="17.2" lengthAdjust="spacingAndGlyphs" fill="#000" stroke="#000" stroke-width="0.45">1.4</text>
<line x1="501.2" y1="569.5" x2="504.2" y2="569.5" stroke="#000" stroke-width="1.2"/>
<text x="479.5" y="592.9" font-size="14" font-weight="bold" textLength="17.2" lengthAdjust="spacingAndGlyphs" fill="#000" stroke="#000" stroke-width="0.45">1.2</text>
<line x1="501.2" y1="585.5" x2="504.2" y2="585.5" stroke="#000" stroke-width="1.2"/>
<text x="479.5" y="608.6" font-size="14" font-weight="bold" textLength="17.2" lengthAdjust="spacingAndGlyphs" fill="#000" stroke="#000" stroke-width="0.45">1.0</text>
<line x1="501.2" y1="601.5" x2="504.2" y2="601.5" stroke="#000" stroke-width="1.2"/>
<text x="479.5" y="624.3" font-size="14" font-weight="bold" textLength="17.2" lengthAdjust="spacingAndGlyphs" fill="#000" stroke="#000" stroke-width="0.45">0.8</text>
<line x1="501.2" y1="617.5" x2="504.2" y2="617.5" stroke="#000" stroke-width="1.2"/>
<text x="479.5" y="640.0" font-size="14" font-weight="bold" textLength="17.2" lengthAdjust="spacingAndGlyphs" fill="#000" stroke="#000" stroke-width="0.45">0.6</text>
<line x1="501.2" y1="633.5" x2="504.2" y2="633.5" stroke="#000" stroke-width="1.2"/>
<text x="479.5" y="655.7" font-size="14" font-weight="bold" textLength="17.2" lengthAdjust="spacingAndGlyphs" fill="#000" stroke="#000" stroke-width="0.45">0.4</text>
<line x1="501.2" y1="649.5" x2="504.2" y2="649.5" stroke="#000" stroke-width="1.2"/>
<text x="479.5" y="671.4" font-size="14" font-weight="bold" textLength="17.2" lengthAdjust="spacingAndGlyphs" fill="#000" stroke="#000" stroke-width="0.45">0.2</text>
<line x1="501.2" y1="665.5" x2="504.2" y2="665.5" stroke="#000" stroke-width="1.2"/>
<text x="479.5" y="687.1" font-size="14" font-weight="bold" textLength="17.2" lengthAdjust="spacingAndGlyphs" fill="#000" stroke="#000" stroke-width="0.45">0.0</text>
<line x1="501.2" y1="681.5" x2="504.2" y2="681.5" stroke="#000" stroke-width="1.2"/>
<rect x="516.0" y="659.3" width="20.7" height="22.3" fill="#000"/>
<rect x="562.3" y="676.7" width="19.4" height="4.9" fill="#000"/>
<rect x="613.3" y="589.3" width="19.4" height="92.3" fill="#000"/>
<line x1="623.5" y1="586.7" x2="623.5" y2="589.3" stroke="#000" stroke-width="1.2"/>
<line x1="618.9" y1="586.5" x2="627.1" y2="586.5" stroke="#000" stroke-width="1.2"/>
<rect x="659.3" y="603.3" width="20.0" height="78.3" fill="#000"/>
<line x1="669.5" y1="597.3" x2="669.5" y2="603.3" stroke="#000" stroke-width="1.2"/>
<line x1="665.2" y1="597.5" x2="673.4" y2="597.5" stroke="#000" stroke-width="1.2"/>
<line x1="522.7" y1="581.5" x2="614.3" y2="581.5" stroke="#000" stroke-width="1.5"/>
<text x="567.7" y="582.0" font-size="12" font-weight="bold" text-anchor="middle" stroke="#000" stroke-width="0.3">*</text>
<line x1="579.0" y1="599.5" x2="658.3" y2="599.5" stroke="#000" stroke-width="1.5"/>
<text x="642.7" y="599.3" font-size="12" font-weight="bold" text-anchor="middle" stroke="#000" stroke-width="0.3">*</text>
<line x1="529.0" y1="645.5" x2="570.0" y2="645.5" stroke="#000" stroke-width="1.5"/>
<text x="549.3" y="646.0" font-size="12" font-weight="bold" text-anchor="middle" stroke="#000" stroke-width="0.3">*</text>
<text transform="translate(470.6,649.7) rotate(-90)" font-size="14.5" font-weight="bold" textLength="43.9" lengthAdjust="spacingAndGlyphs" stroke="#000" stroke-width="0.45">MKP-3</text>
<text x="511.7" y="701.7" font-size="14" font-weight="bold" textLength="25.0" lengthAdjust="spacingAndGlyphs" fill="#000" stroke="#000" stroke-width="0.45">GFP</text>
<text x="544.0" y="701.7" font-size="14" font-weight="bold" textLength="57.0" lengthAdjust="spacingAndGlyphs" fill="#000" stroke="#000" stroke-width="0.45">MEK CA</text>
<text x="610.0" y="701.7" font-size="14" font-weight="bold" textLength="26.0" lengthAdjust="spacingAndGlyphs" fill="#000" stroke="#000" stroke-width="0.45">GFP</text>
<text x="647.3" y="701.7" font-size="14" font-weight="bold" textLength="56.0" lengthAdjust="spacingAndGlyphs" fill="#000" stroke="#000" stroke-width="0.45">MEK CA</text>
<line x1="516.7" y1="709.5" x2="581.7" y2="709.5" stroke="#000" stroke-width="1.3"/>
<line x1="612.7" y1="709.5" x2="678.3" y2="709.5" stroke="#000" stroke-width="1.3"/>
<text x="527.7" y="727.3" font-size="14" font-weight="bold" textLength="60.0" lengthAdjust="spacingAndGlyphs" fill="#000" stroke="#000" stroke-width="0.45">AdMKP-3</text>
<text x="619.0" y="727.3" font-size="14" font-weight="bold" textLength="60.3" lengthAdjust="spacingAndGlyphs" fill="#000" stroke="#000" stroke-width="0.45">AdMKP-3</text>
<text x="615.0" y="744.3" font-size="14" font-weight="bold" textLength="77.3" lengthAdjust="spacingAndGlyphs" fill="#000" stroke="#000" stroke-width="0.45">S159AS197A</text>
<rect x="832.5" y="305.5" width="191.0" height="110.0" fill="none" stroke="#000" stroke-width="1.3"/>
<text x="808.0" y="310.3" font-size="14" font-weight="bold" textLength="17.2" lengthAdjust="spacingAndGlyphs" fill="#000" stroke="#000" stroke-width="0.45">1.6</text>
<line x1="830.2" y1="305.5" x2="832.4" y2="305.5" stroke="#000" stroke-width="1.2"/>
<text x="808.0" y="324.3" font-size="14" font-weight="bold" textLength="17.2" lengthAdjust="spacingAndGlyphs" fill="#000" stroke="#000" stroke-width="0.45">1.4</text>
<line x1="830.2" y1="318.5" x2="832.4" y2="318.5" stroke="#000" stroke-width="1.2"/>
<text x="808.0" y="338.2" font-size="14" font-weight="bold" textLength="17.2" lengthAdjust="spacingAndGlyphs" fill="#000" stroke="#000" stroke-width="0.45">1.2</text>
<line x1="830.2" y1="332.5" x2="832.4" y2="332.5" stroke="#000" stroke-width="1.2"/>
<text x="808.0" y="352.2" font-size="14" font-weight="bold" textLength="17.2" lengthAdjust="spacingAndGlyphs" fill="#000" stroke="#000" stroke-width="0.45">1.0</text>
<line x1="830.2" y1="346.5" x2="832.4" y2="346.5" stroke="#000" stroke-width="1.2"/>
<text x="808.0" y="366.2" font-size="14" font-weight="bold" textLength="17.2" lengthAdjust="spacingAndGlyphs" fill="#000" stroke="#000" stroke-width="0.45">0.8</text>
<line x1="830.2" y1="360.5" x2="832.4" y2="360.5" stroke="#000" stroke-width="1.2"/>
<text x="808.0" y="380.2" font-size="14" font-weight="bold" textLength="17.2" lengthAdjust="spacingAndGlyphs" fill="#000" stroke="#000" stroke-width="0.45">0.6</text>
<line x1="830.2" y1="373.5" x2="832.4" y2="373.5" stroke="#000" stroke-width="1.2"/>
<text x="808.0" y="394.2" font-size="14" font-weight="bold" textLength="17.2" lengthAdjust="spacingAndGlyphs" fill="#000" stroke="#000" stroke-width="0.45">0.4</text>
<line x1="830.2" y1="387.5" x2="832.4" y2="387.5" stroke="#000" stroke-width="1.2"/>
<text x="808.0" y="408.1" font-size="14" font-weight="bold" textLength="17.2" lengthAdjust="spacingAndGlyphs" fill="#000" stroke="#000" stroke-width="0.45">0.2</text>
<line x1="830.2" y1="401.5" x2="832.4" y2="401.5" stroke="#000" stroke-width="1.2"/>
<text x="808.0" y="422.1" font-size="14" font-weight="bold" textLength="17.2" lengthAdjust="spacingAndGlyphs" fill="#000" stroke="#000" stroke-width="0.45">0.0</text>
<line x1="830.2" y1="415.5" x2="832.4" y2="415.5" stroke="#000" stroke-width="1.2"/>
<rect x="842.0" y="411.0" width="17.2" height="4.0" fill="#000"/>
<rect x="880.3" y="329.3" width="17.9" height="85.7" fill="#000"/>
<rect x="956.3" y="412.0" width="16.7" height="3.0" fill="#000"/>
<rect x="995.6" y="325.2" width="15.1" height="89.8" fill="#000"/>
<line x1="1003.5" y1="322.7" x2="1003.5" y2="325.2" stroke="#000" stroke-width="1.2"/>
<line x1="999.9" y1="322.5" x2="1006.5" y2="322.5" stroke="#000" stroke-width="1.2"/>
<line x1="847.3" y1="323.5" x2="888.8" y2="323.5" stroke="#000" stroke-width="1.5"/>
<text x="868.6" y="323.7" font-size="12" font-weight="bold" text-anchor="middle" stroke="#000" stroke-width="0.3">*</text>
<line x1="952.6" y1="319.5" x2="994.0" y2="319.5" stroke="#000" stroke-width="1.5"/>
<text x="975.2" y="318.6" font-size="12" font-weight="bold" text-anchor="middle" stroke="#000" stroke-width="0.3">*</text>
<text transform="translate(792.0,401.8) rotate(-90)" font-size="14.5" font-weight="bold" textLength="88.6" lengthAdjust="spacingAndGlyphs" stroke="#000" stroke-width="0.45">pERK1/tERK1</text>
<rect x="832.5" y="437.5" width="190.0" height="110.0" fill="none" stroke="#999" stroke-width="1.3"/>
<line x1="832.5" y1="436.9" x2="832.5" y2="548.4" stroke="#000" stroke-width="1.3"/>
<line x1="832.1" y1="547.5" x2="1022.9" y2="547.5" stroke="#000" stroke-width="1.3"/>
<text x="810.2" y="443.0" font-size="14" font-weight="bold" textLength="13.8" lengthAdjust="spacingAndGlyphs" fill="#000" stroke="#000" stroke-width="0.45">10</text>
<line x1="829.2" y1="437.5" x2="832.7" y2="437.5" stroke="#000" stroke-width="1.2"/>
<line x1="829.2" y1="448.5" x2="832.7" y2="448.5" stroke="#000" stroke-width="1.2"/>
<text x="817.1" y="465.3" font-size="14" font-weight="bold" textLength="6.9" lengthAdjust="spacingAndGlyphs" fill="#000" stroke="#000" stroke-width="0.45">8</text>
<line x1="829.2" y1="459.5" x2="832.7" y2="459.5" stroke="#000" stroke-width="1.2"/>
<line x1="829.2" y1="470.5" x2="832.7" y2="470.5" stroke="#000" stroke-width="1.2"/>
<text x="817.1" y="487.6" font-size="14" font-weight="bold" textLength="6.9" lengthAdjust="spacingAndGlyphs" fill="#000" stroke="#000" stroke-width="0.45">6</text>
<line x1="829.2" y1="481.5" x2="832.7" y2="481.5" stroke="#000" stroke-width="1.2"/>
<line x1="829.2" y1="492.5" x2="832.7" y2="492.5" stroke="#000" stroke-width="1.2"/>
<text x="817.1" y="509.9" font-size="14" font-weight="bold" textLength="6.9" lengthAdjust="spacingAndGlyphs" fill="#000" stroke="#000" stroke-width="0.45">4</text>
<line x1="829.2" y1="503.5" x2="832.7" y2="503.5" stroke="#000" stroke-width="1.2"/>
<line x1="829.2" y1="514.5" x2="832.7" y2="514.5" stroke="#000" stroke-width="1.2"/>
<text x="817.1" y="532.2" font-size="14" font-weight="bold" textLength="6.9" lengthAdjust="spacingAndGlyphs" fill="#000" stroke="#000" stroke-width="0.45">2</text>
<line x1="829.2" y1="525.5" x2="832.7" y2="525.5" stroke="#000" stroke-width="1.2"/>
<line x1="829.2" y1="536.5" x2="832.7" y2="536.5" stroke="#000" stroke-width="1.2"/>
<text x="817.1" y="554.5" font-size="14" font-weight="bold" textLength="6.9" lengthAdjust="spacingAndGlyphs" fill="#000" stroke="#000" stroke-width="0.45">0</text>
<line x1="829.2" y1="547.5" x2="832.7" y2="547.5" stroke="#000" stroke-width="1.2"/>
<rect x="842.0" y="535.7" width="17.2" height="12.1" fill="#000"/>
<line x1="850.5" y1="529.4" x2="850.5" y2="535.7" stroke="#000" stroke-width="1.2"/>
<line x1="847.0" y1="529.5" x2="854.2" y2="529.5" stroke="#000" stroke-width="1.2"/>
<rect x="880.3" y="452.4" width="17.9" height="95.4" fill="#000"/>
<line x1="889.5" y1="447.7" x2="889.5" y2="452.4" stroke="#000" stroke-width="1.2"/>
<line x1="885.6" y1="447.5" x2="892.9" y2="447.5" stroke="#000" stroke-width="1.2"/>
<rect x="943.8" y="541.0" width="16.6" height="6.8" fill="#000"/>
<rect x="981.5" y="454.0" width="16.5" height="93.8" fill="#000"/>
<line x1="989.5" y1="451.4" x2="989.5" y2="454.0" stroke="#000" stroke-width="1.2"/>
<line x1="986.2" y1="451.5" x2="993.2" y2="451.5" stroke="#000" stroke-width="1.2"/>
<line x1="841.0" y1="449.5" x2="881.2" y2="449.5" stroke="#000" stroke-width="1.5"/>
<text x="858.3" y="450.2" font-size="12" font-weight="bold" text-anchor="middle" stroke="#000" stroke-width="0.3">*</text>
<line x1="952.6" y1="449.5" x2="994.0" y2="449.5" stroke="#000" stroke-width="1.5"/>
<text x="974.0" y="449.6" font-size="12" font-weight="bold" text-anchor="middle" stroke="#000" stroke-width="0.3">*</text>
<text transform="translate(792.8,536.9) rotate(-90)" font-size="14.5" font-weight="bold" textLength="88.4" lengthAdjust="spacingAndGlyphs" stroke="#000" stroke-width="0.45">pERK2/tERK2</text>
<rect x="830.5" y="568.5" width="192.0" height="112.0" fill="none" stroke="#000" stroke-width="1.3"/>
<text x="805.8" y="574.4" font-size="14" font-weight="bold" textLength="17.9" lengthAdjust="spacingAndGlyphs" fill="#000" stroke="#000" stroke-width="0.45">0.6</text>
<line x1="827.6" y1="568.5" x2="830.1" y2="568.5" stroke="#000" stroke-width="1.2"/>
<text x="805.8" y="593.1" font-size="14" font-weight="bold" textLength="17.9" lengthAdjust="spacingAndGlyphs" fill="#000" stroke="#000" stroke-width="0.45">0.5</text>
<line x1="827.6" y1="586.5" x2="830.1" y2="586.5" stroke="#000" stroke-width="1.2"/>
<text x="805.8" y="611.8" font-size="14" font-weight="bold" textLength="17.9" lengthAdjust="spacingAndGlyphs" fill="#000" stroke="#000" stroke-width="0.45">0.4</text>
<line x1="827.6" y1="605.5" x2="830.1" y2="605.5" stroke="#000" stroke-width="1.2"/>
<text x="805.8" y="630.5" font-size="14" font-weight="bold" textLength="17.9" lengthAdjust="spacingAndGlyphs" fill="#000" stroke="#000" stroke-width="0.45">0.3</text>
<line x1="827.6" y1="624.5" x2="830.1" y2="624.5" stroke="#000" stroke-width="1.2"/>
<text x="805.8" y="649.3" font-size="14" font-weight="bold" textLength="17.9" lengthAdjust="spacingAndGlyphs" fill="#000" stroke="#000" stroke-width="0.45">0.2</text>
<line x1="827.6" y1="643.5" x2="830.1" y2="643.5" stroke="#000" stroke-width="1.2"/>
<text x="805.8" y="668.0" font-size="14" font-weight="bold" textLength="17.9" lengthAdjust="spacingAndGlyphs" fill="#000" stroke="#000" stroke-width="0.45">0.1</text>
<line x1="827.6" y1="662.5" x2="830.1" y2="662.5" stroke="#000" stroke-width="1.2"/>
<text x="805.8" y="686.7" font-size="14" font-weight="bold" textLength="17.9" lengthAdjust="spacingAndGlyphs" fill="#000" stroke="#000" stroke-width="0.45">0.0</text>
<line x1="827.6" y1="680.5" x2="830.1" y2="680.5" stroke="#000" stroke-width="1.2"/>
<rect x="842.6" y="575.0" width="16.6" height="105.8" fill="#000"/>
<rect x="881.2" y="623.2" width="15.8" height="57.6" fill="#000"/>
<line x1="889.5" y1="619.0" x2="889.5" y2="623.2" stroke="#000" stroke-width="1.2"/>
<line x1="885.5" y1="619.5" x2="892.7" y2="619.5" stroke="#000" stroke-width="1.2"/>
<rect x="944.7" y="581.4" width="15.7" height="99.4" fill="#000"/>
<rect x="982.4" y="653.0" width="15.6" height="27.8" fill="#000"/>
<line x1="990.5" y1="650.6" x2="990.5" y2="653.0" stroke="#000" stroke-width="1.2"/>
<line x1="986.7" y1="650.5" x2="993.7" y2="650.5" stroke="#000" stroke-width="1.2"/>
<line x1="849.5" y1="571.5" x2="891.3" y2="571.5" stroke="#000" stroke-width="1.5"/>
<text x="871.5" y="585.0" font-size="12" font-weight="bold" text-anchor="middle" stroke="#000" stroke-width="0.3">*</text>
<line x1="956.3" y1="577.5" x2="998.0" y2="577.5" stroke="#000" stroke-width="1.5"/>
<text x="978.3" y="578.0" font-size="12" font-weight="bold" text-anchor="middle" stroke="#000" stroke-width="0.3">*</text>
<text transform="translate(756.8,656.7) rotate(-90)" font-size="14.5" font-weight="bold" textLength="44.6" lengthAdjust="spacingAndGlyphs" stroke="#000" stroke-width="0.45">MKP-3</text>
<text x="837.0" y="702.4" font-size="14" font-weight="bold" textLength="26.0" lengthAdjust="spacingAndGlyphs" fill="#000" stroke="#000" stroke-width="0.45">GFP</text>
<text x="869.3" y="702.4" font-size="14" font-weight="bold" textLength="56.5" lengthAdjust="spacingAndGlyphs" fill="#000" stroke="#000" stroke-width="0.45">MEK CA</text>
<text x="934.6" y="702.4" font-size="14" font-weight="bold" textLength="26.8" lengthAdjust="spacingAndGlyphs" fill="#000" stroke="#000" stroke-width="0.45">GFP</text>
<text x="973.0" y="702.4" font-size="14" font-weight="bold" textLength="55.6" lengthAdjust="spacingAndGlyphs" fill="#000" stroke="#000" stroke-width="0.45">MEK CA</text>
<line x1="843.2" y1="710.5" x2="907.0" y2="710.5" stroke="#000" stroke-width="1.3"/>
<line x1="940.0" y1="710.5" x2="1004.4" y2="710.5" stroke="#000" stroke-width="1.3"/>
<text x="850.4" y="728.5" font-size="14" font-weight="bold" textLength="59.6" lengthAdjust="spacingAndGlyphs" fill="#000" stroke="#000" stroke-width="0.45">AdMKP-3</text>
<text x="943.8" y="728.5" font-size="14" font-weight="bold" textLength="60.6" lengthAdjust="spacingAndGlyphs" fill="#000" stroke="#000" stroke-width="0.45">AdMKP-3</text>
<text x="858.3" y="744.8" font-size="14" font-weight="bold" textLength="39.3" lengthAdjust="spacingAndGlyphs" fill="#000" stroke="#000" stroke-width="0.45">S159A</text>
<text x="954.8" y="744.8" font-size="14" font-weight="bold" textLength="37.0" lengthAdjust="spacingAndGlyphs" fill="#000" stroke="#000" stroke-width="0.45">S197A</text>
</svg>
</body></html>
